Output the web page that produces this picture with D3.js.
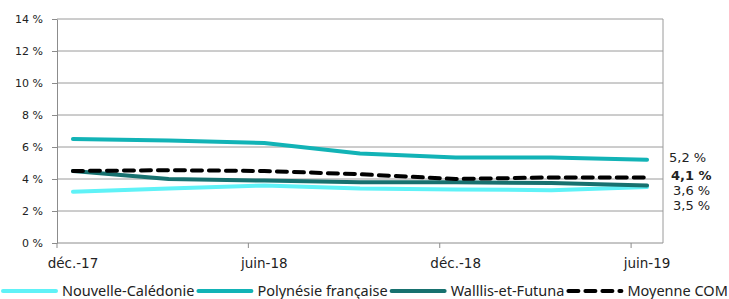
<!DOCTYPE html>
<html>
<head>
<meta charset="utf-8">
<script src="https://cdn.jsdelivr.net/npm/d3@7"></script>
<style>
  body { margin: 0; background: #fff; }
  svg { display: block; }
</style>
</head>
<body>
<div id="chart"></div>
<script>
const width = 729;
const height = 299;

// mois de l'axe (un créneau par mois, de déc. 2017 à juin 2019)
const mois = d3.timeMonths(new Date(2017, 11, 1), new Date(2019, 6, 1));
const trimestres = [new Date(2017, 11, 1), new Date(2018, 2, 1), new Date(2018, 5, 1),
  new Date(2018, 8, 1), new Date(2018, 11, 1), new Date(2019, 2, 1), new Date(2019, 5, 1)];
const etiquettesX = ["déc.-17", "juin-18", "déc.-18", "juin-19"];
const ticksY = [0, 2, 4, 6, 8, 10, 12, 14];

const nouvelleCaledonie = [3.2, 3.4, 3.6, 3.4, 3.35, 3.3, 3.5];
const polynesie = [6.5, 6.4, 6.25, 5.6, 5.35, 5.35, 5.2];
const wallis = [4.5, 4.0, 3.9, 3.8, 3.8, 3.75, 3.6];
const moyenneCOM = [4.5, 4.55, 4.5, 4.3, 4.0, 4.1, 4.1];

const series = [
  { nom: "Nouvelle-Calédonie", valeurs: nouvelleCaledonie, couleur: "#5ff2f7", tirets: null, label: "3,5 %", gras: false },
  { nom: "Polynésie française", valeurs: polynesie, couleur: "#12b3b6", tirets: null, label: "5,2 %", gras: false },
  { nom: "Walllis-et-Futuna", valeurs: wallis, couleur: "#17716f", tirets: null, label: "3,6 %", gras: false },
  { nom: "Moyenne COM", valeurs: moyenneCOM, couleur: "#000", tirets: "10,7", label: "4,1 %", gras: true }
];

const margin = { top: 19, right: 66, bottom: 56, left: 57 };
const innerW = width - margin.left - margin.right;
const innerH = height - margin.top - margin.bottom;

const svg = d3.select("#chart").append("svg")
  .attr("width", width)
  .attr("height", height);

const g = svg.append("g").attr("transform", `translate(${margin.left},${margin.top})`);

const fmtMois = d3.timeFormat("%Y-%m");
const x = d3.scaleBand().domain(mois.map(fmtMois)).range([0, innerW]);
const y = d3.scaleLinear().domain([0, 14]).range([innerH, 0]);
const cx = d => x(fmtMois(d)) + x.bandwidth() / 2;

// grille horizontale
g.selectAll(".grille")
  .data(ticksY.filter(t => t > 0))
  .join("line")
  .attr("x1", 0).attr("x2", innerW)
  .attr("y1", d => y(d)).attr("y2", d => y(d))
  .attr("stroke", "#9a9a9a").attr("stroke-width", 1);

// bordure droite de la zone de traçage
g.append("line")
  .attr("x1", innerW).attr("x2", innerW)
  .attr("y1", 0).attr("y2", innerH)
  .attr("stroke", "#9a9a9a");

// axe Y
const axeY = g.append("g")
  .call(d3.axisLeft(y).tickValues(ticksY).tickSize(5).tickSizeOuter(0).tickPadding(9)
    .tickFormat(d => d + " %"));
axeY.select(".domain").attr("stroke", "#8c8c8c");
axeY.selectAll(".tick line").attr("stroke", "#8c8c8c");
axeY.selectAll("text")
  .attr("font-family", "'DejaVu Sans', Verdana, sans-serif")
  .attr("font-size", 11).attr("fill", "#222");

// axe X : graduations au début des créneaux, étiquettes au centre
const debutsTicks = [0, 6, 12, 18].map(i => mois[i]);
const axeX = g.append("g").attr("transform", `translate(0,${innerH})`);
axeX.append("line").attr("x1", 0).attr("x2", innerW)
  .attr("stroke", "#8c8c8c");
axeX.selectAll(".tickx")
  .data(debutsTicks)
  .join("line")
  .attr("x1", d => x(fmtMois(d))).attr("x2", d => x(fmtMois(d)))
  .attr("y1", 0).attr("y2", 5)
  .attr("stroke", "#8c8c8c");
axeX.selectAll(".etiq")
  .data(debutsTicks)
  .join("text")
  .attr("x", d => cx(d))
  .attr("y", 25)
  .attr("text-anchor", "middle")
  .attr("font-family", "'DejaVu Sans', Verdana, sans-serif")
  .attr("font-size", 13.5)
  .attr("fill", "#222")
  .text((d, i) => etiquettesX[i]);

// courbes
const ligne = d3.line()
  .x((d, i) => cx(trimestres[i]))
  .y(d => y(d));

g.selectAll(".serie")
  .data(series)
  .join("path")
  .attr("d", d => ligne(d.valeurs))
  .attr("fill", "none")
  .attr("stroke", d => d.couleur)
  .attr("stroke-width", 4)
  .attr("stroke-linecap", "round")
  .attr("stroke-linejoin", "round")
  .attr("stroke-dasharray", d => d.tirets);

// étiquettes de fin de courbe, empilées sans chevauchement
const fin = series.map(s => ({ s, v: s.valeurs[s.valeurs.length - 1] }))
  .sort((a, b) => b.v - a.v);
let dernierY = -Infinity;
fin.forEach(f => {
  f.y = Math.max(y(f.v) - 2, dernierY + 15);
  dernierY = f.y;
});
g.selectAll(".etiqFin")
  .data(fin)
  .join("text")
  .attr("x", (d, i) => innerW + (i === 0 ? 6 : i === 1 ? 8 : 10))
  .attr("y", d => d.y)
  .attr("dy", "0.35em")
  .attr("font-family", "'DejaVu Sans', Verdana, sans-serif")
  .attr("font-size", 13)
  .attr("font-weight", d => d.s.gras ? "bold" : "normal")
  .attr("fill", "#222")
  .text(d => d.s.label);

// légende
const leg = svg.append("g").attr("transform", `translate(0,${291})`);
let posX = 3;
series.forEach(s => {
  const item = leg.append("g").attr("transform", `translate(${posX},0)`);
  item.append("line")
    .attr("x1", 0).attr("x2", 53)
    .attr("stroke", s.couleur)
    .attr("stroke-width", 4)
    .attr("stroke-linecap", "round")
    .attr("stroke-dasharray", s.tirets);
  const t = item.append("text")
    .attr("x", 59)
    .attr("dy", "0.35em")
    .attr("font-family", "'Noto Sans', 'Open Sans', sans-serif")
    .attr("font-size", 14.5)
    .attr("fill", "#222")
    .text(s.nom);
  posX += 59 + t.node().getComputedTextLength() + 4;
});
</script>
</body>
</html>
